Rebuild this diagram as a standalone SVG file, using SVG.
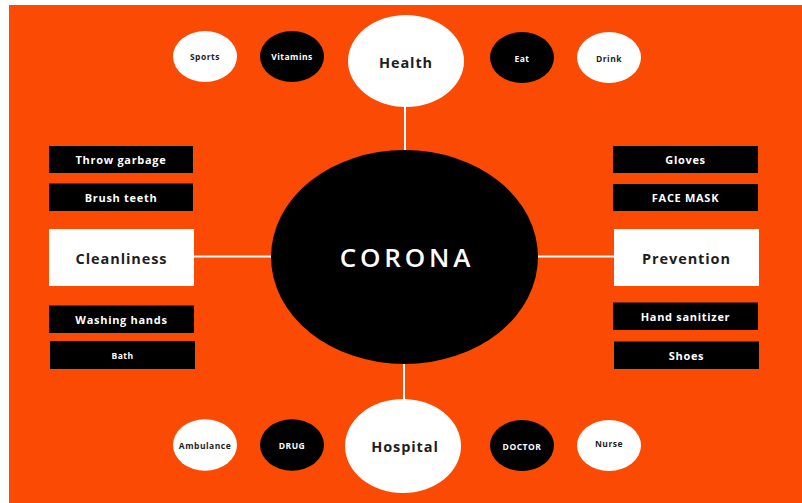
<svg xmlns="http://www.w3.org/2000/svg" width="802" height="503" viewBox="0 0 802 503">
<style>
  text { font-family: "Open Sans", "Noto Sans", "Liberation Sans", sans-serif; text-anchor: middle; dominant-baseline: central; }
  .wfill { fill: #ffffff; }
  .bfill { fill: #000000; }
  .tw { fill: #ffffff; font-weight: 700; }
  .tb { fill: #1e1e1e; font-weight: 700; }
  .small { font-size: 8.5px; letter-spacing: 0.5px; }
  .box { font-size: 11px; letter-spacing: 0.7px; }
  .main { font-size: 14.5px; letter-spacing: 0.9px; }
  .conn { stroke: #ffffff; stroke-width: 2; fill: none; }
</style>
<rect x="0" y="0" width="802" height="503" fill="#ffffff"/>
<rect x="9" y="5" width="793" height="498" fill="#FA4A03"/>

<g id="connectors">
  <line class="conn" x1="405" y1="106" x2="405" y2="152"/>
  <line class="conn" x1="194" y1="256.5" x2="272" y2="256.5"/>
  <line class="conn" x1="537" y1="256.5" x2="614" y2="256.5"/>
  <line class="conn" x1="404" y1="362" x2="404" y2="400"/>
</g>

<g id="corona">
  <ellipse class="bfill" cx="404.5" cy="257" rx="133.5" ry="107"/>
  <text x="407" y="256.5" fill="#ffffff" font-size="26" font-weight="600" letter-spacing="3.8">CORONA</text>
</g>

<g id="health">
  <ellipse class="wfill" cx="406" cy="61" rx="58" ry="46"/>
  <text class="tb main" x="406" y="62">Health</text>
</g>
<g id="sports">
  <ellipse class="wfill" cx="205" cy="56.5" rx="32" ry="25.5"/>
  <text class="tb small" x="205" y="56">Sports</text>
</g>
<g id="vitamins">
  <ellipse class="bfill" cx="292" cy="56.5" rx="32" ry="25.5"/>
  <text class="tw small" x="292" y="56">Vitamins</text>
</g>
<g id="eat">
  <ellipse class="bfill" cx="522" cy="57.5" rx="32" ry="25.5"/>
  <text class="tw small" x="522" y="58">Eat</text>
</g>
<g id="drink">
  <ellipse class="wfill" cx="609" cy="57.5" rx="32" ry="25.5"/>
  <text class="tb small" x="609" y="58">Drink</text>
</g>

<g id="throw-garbage">
  <rect class="bfill" x="49" y="146" width="144" height="27"/>
  <text class="tw box" x="121" y="159.5">Throw garbage</text>
</g>
<g id="brush-teeth">
  <rect class="bfill" x="49" y="183.5" width="144" height="27.5"/>
  <text class="tw box" x="121" y="197">Brush teeth</text>
</g>
<g id="cleanliness">
  <rect class="wfill" x="49" y="229" width="145" height="57"/>
  <text class="tb main" x="121.5" y="258">Cleanliness</text>
</g>
<g id="washing-hands">
  <rect class="bfill" x="49" y="305.5" width="145" height="27.5"/>
  <text class="tw box" x="121.5" y="319">Washing hands</text>
</g>
<g id="bath">
  <rect class="bfill" x="50" y="341" width="145" height="28"/>
  <text class="tw small" x="122.5" y="355.5">Bath</text>
</g>

<g id="gloves">
  <rect class="bfill" x="613" y="146" width="145" height="27"/>
  <text class="tw box" x="685.5" y="159.5">Gloves</text>
</g>
<g id="face-mask">
  <rect class="bfill" x="613" y="184" width="145" height="27"/>
  <text class="tw box" x="685.5" y="197.5">FACE MASK</text>
</g>
<g id="prevention">
  <rect class="wfill" x="614" y="229" width="145" height="57"/>
  <text class="tb main" x="686.5" y="258">Prevention</text>
</g>
<g id="hand-sanitizer">
  <rect class="bfill" x="613" y="302.5" width="145" height="27.5"/>
  <text class="tw box" x="685.5" y="316">Hand sanitizer</text>
</g>
<g id="shoes">
  <rect class="bfill" x="614" y="341.5" width="145" height="27.5"/>
  <text class="tw box" x="686.5" y="355.5">Shoes</text>
</g>

<g id="ambulance">
  <ellipse class="wfill" cx="205" cy="445" rx="32" ry="25.7"/>
  <text class="tb small" x="205" y="445" font-size="7.8" letter-spacing="0.2">Ambulance</text>
</g>
<g id="drug">
  <ellipse class="bfill" cx="292" cy="445" rx="32" ry="25.7"/>
  <text class="tw small" x="292" y="445.5">DRUG</text>
</g>
<g id="hospital">
  <ellipse class="wfill" cx="403" cy="446" rx="58" ry="47"/>
  <text class="tb main" x="405" y="446">Hospital</text>
</g>
<g id="doctor">
  <ellipse class="bfill" cx="522" cy="445.5" rx="32" ry="25.5"/>
  <text class="tw small" x="522" y="446">DOCTOR</text>
</g>
<g id="nurse">
  <ellipse class="wfill" cx="609" cy="445.5" rx="32" ry="25.5"/>
  <text class="tb small" x="609" y="443.5">Nurse</text>
</g>
</svg>
